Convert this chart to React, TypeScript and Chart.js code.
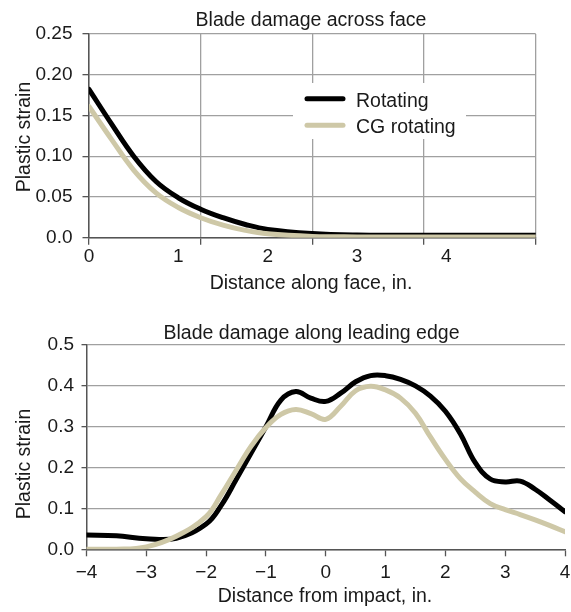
import React, { useEffect, useRef } from "react";
import { Chart, registerables } from "chart.js";

Chart.register(...registerables);

// ---------- Data ----------
const seriesNames = ["Rotating", "CG rotating"];

// Top chart: Blade damage across face
const faceDistance = [0, 0.25, 0.5, 0.75, 1, 1.25, 1.5, 1.75, 2, 2.5, 3, 3.5, 4, 4.5, 5];
const faceRotating = [0.182, 0.140, 0.100, 0.069, 0.049, 0.035, 0.0245, 0.0162, 0.0102, 0.0052, 0.0032, 0.0029, 0.003, 0.003, 0.003];
const faceCGRotating = [0.161, 0.121, 0.083, 0.055, 0.037, 0.0245, 0.0155, 0.009, 0.0048, 0.0016, 0.001, 0.001, 0.001, 0.001, 0.001];
const faceTickLabels = [0, 1, 2, 3, 4];
const faceGridLines = [0, 1.25, 2.5, 3.75, 5];

// Bottom chart: Blade damage along leading edge
const edgeDistance = [-4, -3.5, -3, -2.5, -2, -1.75, -1.5, -1.25, -1, -0.75, -0.5, -0.25, 0, 0.25, 0.5, 0.75, 1, 1.25, 1.5, 1.75, 2, 2.25, 2.5, 2.75, 3, 3.25, 3.5, 3.75, 4];
const edgeRotating = [0.035, 0.033, 0.026, 0.027, 0.062, 0.107, 0.170, 0.235, 0.300, 0.365, 0.386, 0.370, 0.362, 0.382, 0.410, 0.425, 0.425, 0.416, 0.400, 0.375, 0.338, 0.283, 0.212, 0.172, 0.165, 0.167, 0.147, 0.120, 0.092];
const edgeCGRotating = [0.0, 0.0, 0.006, 0.032, 0.080, 0.133, 0.193, 0.252, 0.298, 0.330, 0.342, 0.332, 0.318, 0.350, 0.388, 0.399, 0.390, 0.370, 0.333, 0.275, 0.220, 0.173, 0.140, 0.112, 0.097, 0.085, 0.072, 0.058, 0.043];

const titles = ["Blade damage across face", "Blade damage along leading edge"];
const xTitles = ["Distance along face, in.", "Distance from impact, in."];
const yTitle = "Plastic strain";

// ---------- Styles ----------
const FONT_FAMILY = '"Liberation Sans", Arial, Helvetica, sans-serif';
const FONT_SIZE = 19;
const TITLE_SIZE = 19.5;
const TEXT = "#1a1a1a";
const GRID = "#a0a0a0";
const AXIS = "#555555";
const BLACK = "#000000";
const BEIGE = "#cec8a7";
const TRANSPARENT = "rgba(0,0,0,0)";

type TextItem = { text: string; x: number; y: number; rotate?: number };

function makeTextPlugin(items: TextItem[]) {
  return {
    id: "texts",
    afterDraw(chart: any) {
      const ctx = chart.ctx;
      for (const t of items) {
        ctx.save();
        ctx.font = `${TITLE_SIZE}px ${FONT_FAMILY}`;
        ctx.fillStyle = TEXT;
        ctx.textAlign = "center";
        ctx.textBaseline = "alphabetic";
        ctx.translate(t.x, t.y);
        if (t.rotate) ctx.rotate(t.rotate);
        ctx.fillText(t.text, 0, 0);
        ctx.restore();
      }
    },
  };
}

const legendPlugin = {
  id: "boxLegend",
  beforeDatasetsDraw(chart: any) {
    const ctx = chart.ctx;
    ctx.save();
    ctx.fillStyle = "#ffffff";
    ctx.fillRect(293, 83, 173, 56);
    const rows = [98.7, 125.3];
    chart.data.datasets.forEach((ds: any, i: number) => {
      const y = rows[i];
      ctx.strokeStyle = ds.borderColor;
      ctx.lineWidth = 5;
      ctx.lineCap = "round";
      ctx.beginPath();
      ctx.moveTo(307, y);
      ctx.lineTo(343, y);
      ctx.stroke();
      ctx.font = `${TITLE_SIZE}px ${FONT_FAMILY}`;
      ctx.fillStyle = TEXT;
      ctx.textAlign = "left";
      ctx.textBaseline = "alphabetic";
      ctx.fillText(ds.label, 356, y + 8);
    });
    ctx.restore();
  },
};

const tickFont = { family: FONT_FAMILY, size: FONT_SIZE };

function toPoints(xs: number[], ys: number[]) {
  return xs.map((x, i) => ({ x, y: ys[i] }));
}

function lineDataset(label: string, color: string, data: any[], order: number) {
  return {
    label,
    data,
    borderColor: color,
    backgroundColor: color,
    borderWidth: 5,
    pointRadius: 0,
    tension: 0.4,
    borderJoinStyle: "round" as const,
    borderCapStyle: "round" as const,
    fill: false,
    order,
  };
}

function buildTop(): any {
  const allTicks = Array.from(new Set([...faceTickLabels, ...faceGridLines])).sort((a, b) => a - b);
  const isGrid = (v: number) => faceGridLines.some((g) => Math.abs(g - v) < 1e-9);
  return {
    type: "line",
    data: {
      datasets: [
        lineDataset(seriesNames[0], BLACK, toPoints(faceDistance, faceRotating), 2),
        lineDataset(seriesNames[1], BEIGE, toPoints(faceDistance, faceCGRotating), 1),
      ],
    },
    options: {
      responsive: false,
      animation: false,
      layout: { padding: { top: 34, right: 35.3, left: 0, bottom: 0 } },
      plugins: { legend: { display: false }, tooltip: { enabled: false }, title: { display: false } },
      scales: {
        x: {
          type: "linear",
          min: 0,
          max: 5,
          afterBuildTicks: (s: any) => {
            s.ticks = allTicks.map((v) => ({ value: v }));
          },
          afterFit: (s: any) => {
            s.height = 62.3;
            s.paddingLeft = 0;
            s.paddingRight = 0;
          },
          grid: {
            color: (c: any) => (c.tick && isGrid(c.tick.value) ? GRID : TRANSPARENT),
            tickColor: (c: any) => (c.tick && isGrid(c.tick.value) ? AXIS : TRANSPARENT),
            lineWidth: 1.3,
            tickWidth: 1.3,
            tickLength: 7,
          },
          border: { color: AXIS, width: 1.5 },
          ticks: {
            autoSkip: false,
            maxRotation: 0,
            padding: 0.5,
            font: tickFont,
            color: TEXT,
            callback: (v: number) => (faceTickLabels.includes(v) ? String(v) : ""),
          },
        },
        y: {
          min: 0,
          max: 0.25,
          afterFit: (s: any) => {
            s.width = 89;
            s.paddingTop = 0;
            s.paddingBottom = 0;
          },
          grid: { color: GRID, tickColor: AXIS, lineWidth: 1.3, tickWidth: 1.3, tickLength: 6.5 },
          border: { color: AXIS, width: 1.5 },
          ticks: {
            stepSize: 0.05,
            padding: 10,
            font: tickFont,
            color: TEXT,
            callback: (v: number) => (Math.abs(v) < 1e-9 ? "0.0" : v.toFixed(2)),
          },
        },
      },
    },
    plugins: [
      legendPlugin,
      makeTextPlugin([
        { text: titles[0], x: 311, y: 26 },
        { text: xTitles[0], x: 311, y: 289 },
        { text: yTitle, x: 29.5, y: 137, rotate: -Math.PI / 2 },
      ]),
    ],
  };
}

function buildBottom(): any {
  return {
    type: "line",
    data: {
      datasets: [
        lineDataset(seriesNames[0], BLACK, toPoints(edgeDistance, edgeRotating), 2),
        lineDataset(seriesNames[1], BEIGE, toPoints(edgeDistance, edgeCGRotating), 1),
      ],
    },
    options: {
      responsive: false,
      animation: false,
      layout: { padding: { top: 45, right: 6, left: 0, bottom: 0 } },
      plugins: { legend: { display: false }, tooltip: { enabled: false }, title: { display: false } },
      scales: {
        x: {
          type: "linear",
          min: -4,
          max: 4,
          afterFit: (s: any) => {
            s.height = 62.7;
            s.paddingLeft = 0;
            s.paddingRight = 0;
          },
          grid: { drawOnChartArea: false, tickColor: AXIS, tickWidth: 1.3, tickLength: 7 },
          border: { color: AXIS, width: 1.5 },
          ticks: {
            stepSize: 1,
            autoSkip: false,
            maxRotation: 0,
            padding: 5,
            font: tickFont,
            color: TEXT,
            callback: (v: number) => (v < 0 ? "\u2212" + Math.abs(v) : String(v)),
          },
        },
        y: {
          min: 0,
          max: 0.5,
          afterFit: (s: any) => {
            s.width = 86.5;
            s.paddingTop = 0;
            s.paddingBottom = 0;
          },
          grid: { color: GRID, tickColor: AXIS, lineWidth: 1.3, tickWidth: 1.3, tickLength: 5 },
          border: { color: AXIS, width: 1.5 },
          ticks: {
            stepSize: 0.1,
            padding: 7.5,
            font: tickFont,
            color: TEXT,
            callback: (v: number) => v.toFixed(1),
          },
        },
      },
    },
    plugins: [
      makeTextPlugin([
        { text: titles[1], x: 311.5, y: 39 },
        { text: xTitles[1], x: 325, y: 302 },
        { text: yTitle, x: 29.5, y: 164, rotate: -Math.PI / 2 },
      ]),
    ],
  };
}

function ChartCanvas({ build, width, height, top }: { build: () => any; width: number; height: number; top: number }) {
  const ref = useRef<HTMLCanvasElement | null>(null);
  useEffect(() => {
    if (!ref.current) return;
    const chart = new Chart(ref.current, build());
    return () => chart.destroy();
  }, []);
  return (
    <canvas
      ref={ref}
      width={width}
      height={height}
      style={{ position: "absolute", left: 0, top, width, height, display: "block" }}
    />
  );
}

export default function App() {
  return (
    <div style={{ position: "absolute", left: 0, top: 0, width: 571, height: 612, background: "#ffffff" }}>
      <ChartCanvas build={buildTop} width={571} height={300} top={0} />
      <ChartCanvas build={buildBottom} width={571} height={312} top={300} />
    </div>
  );
}
